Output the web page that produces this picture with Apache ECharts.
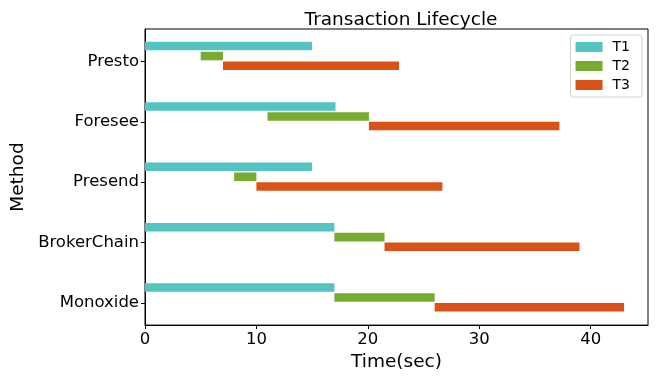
<!DOCTYPE html>
<html><head><meta charset="utf-8">
<script src="https://cdn.jsdelivr.net/npm/echarts@6/dist/echarts.min.js"></script>
<style>html,body{margin:0;padding:0;background:#fff}#c{width:656px;height:377px}</style>
</head><body><div id="c"></div>
<script>
const methods = ['Monoxide','BrokerChain','Presend','Foresee','Presto'];
const xTicks = [0,10,20,30,40];
const t1Start = [0, 0, 0, 0, 0];
const t1End   = [17, 17, 15, 17.1, 15];
const t2Start = [17, 17, 8, 11, 5];
const t2End   = [26, 21.5, 10, 20.1, 7];
const t3Start = [26, 21.5, 10, 20.1, 7];
const t3End   = [43, 39, 26.7, 37.2, 22.8];
const seriesNames = ['T1','T2','T3'];
const colors = ['#53c4c1','#78ac30','#d95319'];
const offsets = [0.255, 0.09, -0.07];
const barH = 0.142;

const font = 'DejaVu Sans';
function mk(i, starts, ends){
  return {
    name: seriesNames[i], type:'custom', color: colors[i],
    encode:{x:[1,2], y:0},
    data: methods.map((m,k)=>[k, starts[k], ends[k]]),
    renderItem:(params, api)=>{
      const y = api.value(0) + offsets[i];
      const p0 = api.coord([api.value(1), y + barH/2]);
      const p1 = api.coord([api.value(2), y - barH/2]);
      return {type:'rect', shape:{x:p0[0], y:p0[1], width:p1[0]-p0[0], height:p1[1]-p0[1]},
        style:{fill: colors[i]}};
    }
  };
}
const yIdx = methods.map((m,k)=>k);
const chart = echarts.init(document.getElementById('c'), null, {renderer:'canvas', width:656, height:377});
chart.setOption({
  animation:false,
  textStyle:{fontFamily:font},
  title:{text:'Transaction Lifecycle', left:396, top:6, textAlign:'center',
    textStyle:{fontFamily:font, fontSize:18.5, fontWeight:'normal', color:'#000'}},
  legend:{orient:'vertical', right:14, top:35, itemWidth:27, itemHeight:10, itemGap:5,
    padding:[5,12,5,5], borderColor:'#d0d0d0', borderWidth:1, borderRadius:3,
    icon:'rect', data:seriesNames,
    textStyle:{fontFamily:font, fontSize:14, color:'#000', padding:[0,0,0,5]}},
  grid:{left:145, right:8, top:29, bottom:47, show:true, borderColor:'#000', borderWidth:1, containLabel:false},
  xAxis:{type:'value', min:0, max:45.15,
    name:'Time(sec)', nameLocation:'middle', nameGap:27,
    nameTextStyle:{fontFamily:font, fontSize:18.5, color:'#000'},
    axisLine:{show:true, onZero:false, lineStyle:{color:'#000'}},
    axisTick:{show:true, length:4, inside:false, lineStyle:{color:'#000'}, customValues:xTicks},
    axisLabel:{fontFamily:font, fontSize:16.5, color:'#000', margin:6, customValues:xTicks,
      formatter:(v)=> String(v)},
    splitLine:{show:false}},
  yAxis:{type:'value', min:-0.367, max:4.538,
    name:'Method', nameLocation:'middle', nameGap:113, nameRotate:90,
    nameTextStyle:{fontFamily:font, fontSize:18.5, color:'#000'},
    axisLine:{show:true, onZero:false, lineStyle:{color:'#000'}},
    axisTick:{show:true, length:4, lineStyle:{color:'#000'}, customValues:yIdx},
    axisLabel:{fontFamily:font, fontSize:16.5, color:'#000', margin:6, customValues:yIdx,
      formatter:(v)=> methods[Math.round(v)]},
    splitLine:{show:false}},
  series:[mk(0,t1Start,t1End), mk(1,t2Start,t2End), mk(2,t3Start,t3End)]
});
</script></body></html>
